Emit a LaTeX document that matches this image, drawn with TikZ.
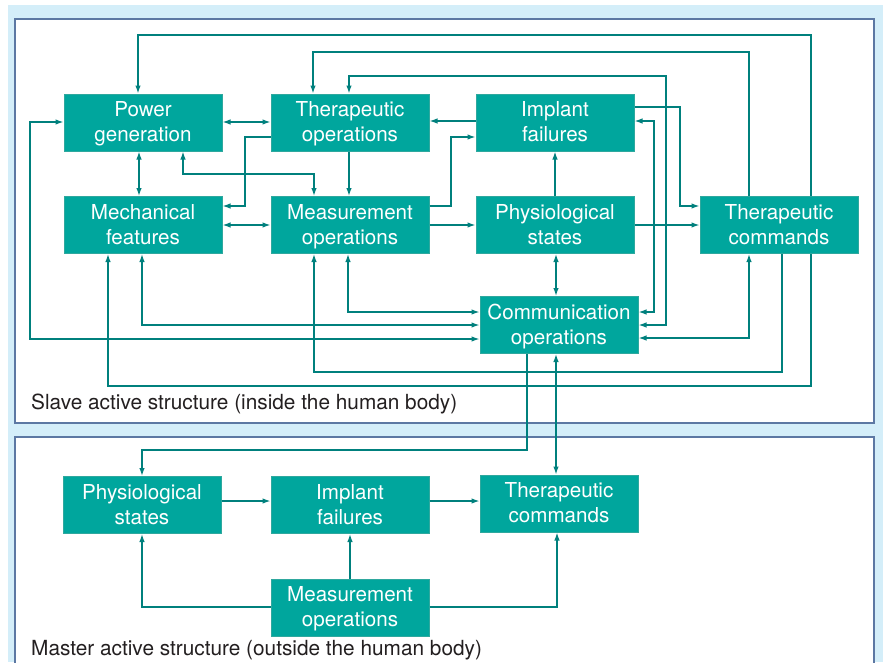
\documentclass[tikz,border=0pt]{standalone}
\usepackage{fontspec}
\setmainfont{TeX Gyre Heros}
\usetikzlibrary{arrows.meta}
\definecolor{bgblue}{HTML}{D4EEF9}
\definecolor{panelline}{HTML}{5C78A3}
\definecolor{boxfill}{HTML}{00A69D}
\definecolor{boxline}{HTML}{2FA89E}
\definecolor{wire}{HTML}{00807D}
\definecolor{labeltext}{HTML}{231F20}
\tikzset{
  blk/.style={rectangle, draw=boxline, line width=1pt, fill=boxfill, text=white,
    minimum width=158pt, minimum height=57pt, inner sep=0pt, align=center,
    text height=40pt, text depth=1.6pt,
    font=\fontsize{20.6}{25}\selectfont},
  arr/.style={draw=wire, line width=1.3pt, -{Latex[length=8pt,width=5.5pt]}},
  darr/.style={draw=wire, line width=1.3pt, {Latex[length=8pt,width=5.5pt]}-{Latex[length=8pt,width=5.5pt]}},
  panel/.style={draw=panelline, line width=1.3pt, fill=white},
  plabel/.style={anchor=base west, text=labeltext, inner sep=0pt, font=\fontsize{20.8}{25}\selectfont}
}
\begin{document}
\begin{tikzpicture}[x=1pt,y=-1pt]
\useasboundingbox (0,0) rectangle (883,662);
\fill[white] (0,0) rectangle (883,662);
\fill[bgblue] (8,5) rectangle (883,662);
% panels
\draw[panel] (15,19) rectangle (874,423);
\fill[white] (15,437) rectangle (874,670);
\draw[panelline, line width=1.3pt] (15,670) -- (15,437) -- (874,437) -- (874,670);
\node[plabel] (slave) at (31,409) {Slave active structure (inside the human body)};
\node[plabel] (master) at (31,655) {Master active structure (outside the human body)};
% upper nodes
\node[blk] (pg) at (143,122.5) {Power\\generation};
\node[blk] (to) at (350,122.5) {Therapeutic\\operations};
\node[blk] (if) at (555,122.5) {Implant\\failures};
\node[blk] (mf) at (143,225) {Mechanical\\features};
\node[blk] (mo) at (350,225) {Measurement\\operations};
\node[blk] (ps) at (555,225) {Physiological\\states};
\node[blk] (tc) at (779,225) {Therapeutic\\commands};
\node[blk] (co) at (559,325) {Communication\\operations};
% lower nodes
\node[blk] (lps) at (142,505) {Physiological\\states};
\node[blk] (lif) at (350,505) {Implant\\failures};
\node[blk] (ltc) at (559,503.5) {Therapeutic\\commands};
\node[blk] (lmo) at (350,607.5) {Measurement\\operations};
% upper connectors
\draw[arr] (811,0 |- tc.north) -- (811,35) -- (138,35) -- (138,0 |- pg.north);
\draw[arr] (811,0 |- tc.south) -- (811,386) -- (108,386) -- (108,0 |- mf.south);
\draw[arr] (749,0 |- tc.north) -- (749,52) -- (313,52) -- (313,0 |- to.north);
\draw[arr] (782,0 |- tc.south) -- (782,372) -- (314,372) -- (314,0 |- mo.south);
\draw[darr] (co.east |- 0,325) -- (666,325) -- (666,76) -- (349,76) -- (349,0 |- to.north);
\draw[arr] (if.east |- 0,107) -- (680,107) -- (680,206) -- (tc.west |- 0,206);
\draw[darr] (co.east |- 0,312) -- (654,312) -- (654,121) -- (if.east |- 0,121);
\draw[arr] (if.west |- 0,121) -- (to.east |- 0,121);
\draw[arr] (mo.east |- 0,206) -- (451,206) -- (451,137) -- (if.west |- 0,137);
\draw[arr] (mo.east |- 0,225) -- (ps.west |- 0,225);
\draw[arr] (ps.north) -- (if.south);
\draw[arr] (ps.east |- 0,225) -- (tc.west |- 0,225);
\draw[darr] (pg.east |- 0,122) -- (to.west |- 0,122);
\draw[arr] (to.west |- 0,137) -- (245,137) -- (245,206) -- (mf.east |- 0,206);
\draw[darr] (139,0 |- pg.south) -- (139,0 |- mf.north);
\draw[darr] (183,0 |- pg.south) -- (183,174) -- (314,174) -- (314,0 |- mo.north);
\draw[arr] (349,0 |- to.south) -- (349,0 |- mo.north);
\draw[darr] (mf.east |- 0,225) -- (mo.west |- 0,225);
\draw[darr] (pg.west |- 0,122) -- (30,122) -- (30,339) -- (co.west |- 0,339);
\draw[darr] (142,0 |- mf.south) -- (142,325) -- (co.west |- 0,325);
\draw[darr] (348,0 |- mo.south) -- (348,312) -- (co.west |- 0,312);
\draw[darr] (556,0 |- ps.south) -- (556,0 |- co.north);
\draw[darr] (749,0 |- tc.south) -- (749,338) -- (co.east |- 0,338);
% inter-structure connectors
\draw[arr] (527,0 |- co.south) -- (527,450) -- (142,450) -- (142,0 |- lps.north);
\draw[darr] (556,0 |- co.south) -- (556,0 |- ltc.north);
% lower connectors
\draw[arr] (lps.east |- 0,501) -- (lif.west |- 0,501);
\draw[arr] (lif.east |- 0,501) -- (ltc.west |- 0,501);
\draw[arr] (lmo.north) -- (lif.south);
\draw[arr] (lmo.west |- 0,607) -- (142,607) -- (142,0 |- lps.south);
\draw[arr] (lmo.east |- 0,607) -- (557,607) -- (557,0 |- ltc.south);
\end{tikzpicture}
\end{document}
